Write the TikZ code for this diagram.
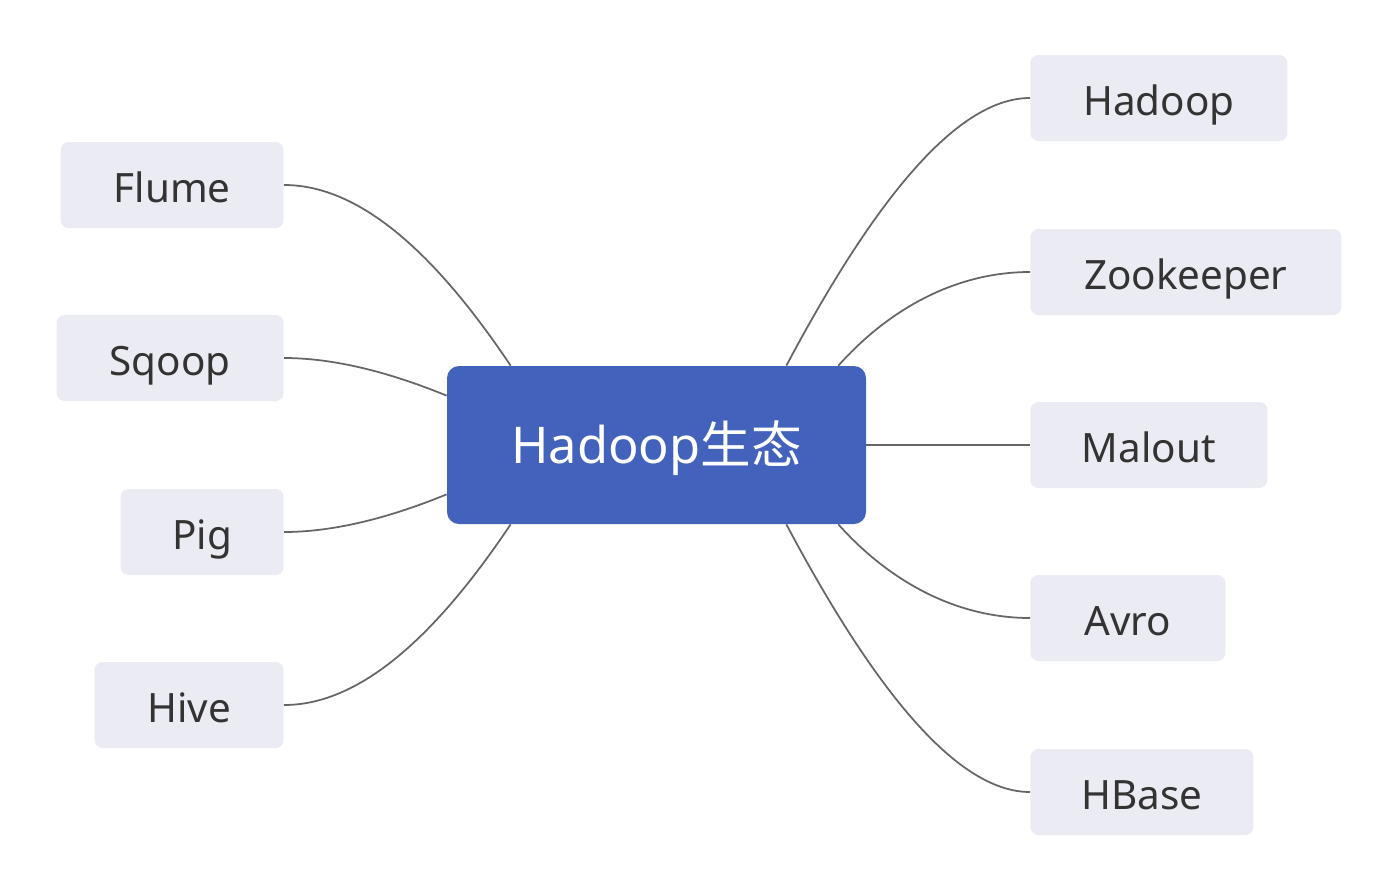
\documentclass[tikz,border=0pt]{standalone}
\usepackage{fontspec}
\setmainfont{Noto Sans}
\newfontfamily\cjk{Noto Sans CJK SC}
\usetikzlibrary{calc}
\definecolor{hubblue}{RGB}{66,98,188}
\definecolor{leafgray}{RGB}{235,235,243}
\definecolor{textgray}{RGB}{51,51,51}
\definecolor{linegray}{RGB}{102,102,102}

\begin{document}
\begin{tikzpicture}[x=0.02cm, y=-0.02cm,
    hub/.style={fill=hubblue, text=white, rounded corners=0.24cm, inner sep=0pt,
        minimum width=419*0.02cm, minimum height=158*0.02cm,
        text height=20.5pt, text depth=0pt,
        font=\fontsize{28.8}{28.8}\selectfont},
    leaf/.style={fill=leafgray, text=textgray, rounded corners=0.16cm, inner sep=0pt,
        minimum width=#1*0.02cm, minimum height=86*0.02cm,
        text height=19.8pt, text depth=0pt,
        font=\fontsize{23}{23}\selectfont},
    link/.style={draw=linegray, line width=1pt}]
    \useasboundingbox (0,0) rectangle (1394,890);

    % Central topic
    \node[hub] (hub) at (656.5,445) {Hadoop{\cjk 生态}};

    % Right branches
    \foreach \name/\txt/\w/\y in {hadoop/Hadoop/257/98, zookeeper/Zookeeper/311/272,
        malout/Malout/237/445, avro/Avro/195/618, hbase/HBase/223/792} {
        \node[leaf=\w, anchor=west] (\name) at (1030,\y) {\txt};
    }

    % Left branches
    \foreach \name/\txt/\w/\y in {flume/Flume/223/185, sqoop/Sqoop/227/358,
        pig/Pig/163/532, hive/Hive/189/705} {
        \node[leaf=\w, anchor=east] (\name) at (284,\y) {\txt};
    }

    % Connectors to the right
    \draw[link] ($(hub.north east)+(-80,0)$) .. controls +(95,-179) and +(-68,0) .. (hadoop.west);
    \draw[link] ($(hub.north east)+(-28,0)$) .. controls +(50,-56) and +(-75,0) .. (zookeeper.west);
    \draw[link] (hub.east) -- (malout.west);
    \draw[link] ($(hub.south east)+(-28,0)$) .. controls +(50,56) and +(-75,0) .. (avro.west);
    \draw[link] ($(hub.south east)+(-80,0)$) .. controls +(95,179) and +(-68,0) .. (hbase.west);

    % Connectors to the left
    \draw[link] ($(hub.north west)+(64,0)$) .. controls +(-81,-121) and +(71,0) .. (flume.east);
    \draw[link] ($(hub.north west)+(0,30)$) .. controls +(-61,-25) and +(47,0) .. (sqoop.east);
    \draw[link] ($(hub.south west)+(0,-30)$) .. controls +(-61,25) and +(47,0) .. (pig.east);
    \draw[link] ($(hub.south west)+(64,0)$) .. controls +(-81,121) and +(71,0) .. (hive.east);
\end{tikzpicture}
\end{document}
